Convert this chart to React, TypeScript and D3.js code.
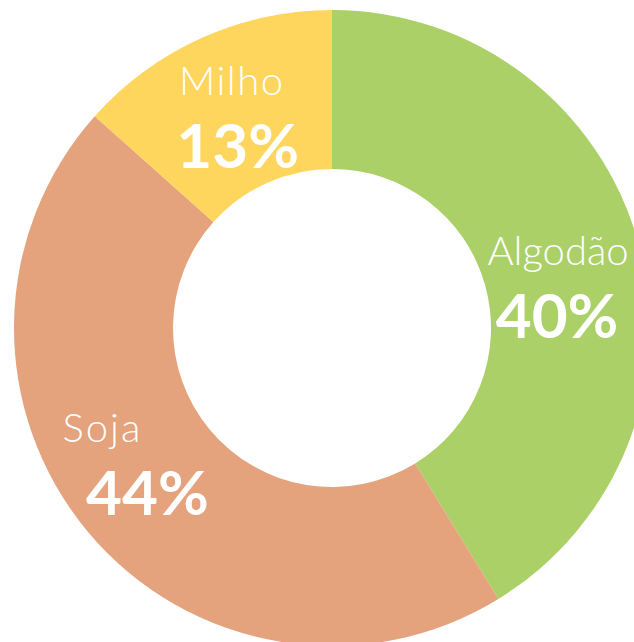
import React, { useEffect, useRef } from 'react';
import * as d3 from 'd3';

// crop shares, clockwise from 12 o'clock
const categories = ['Algodão', 'Soja', 'Milho'];
const shares = [40, 44, 13];
const shareLabels = ['40%', '44%', '13%'];
const colors = ['#aad067', '#e4a27d', '#fed65e'];

// hand-tuned label nudges (dy for the block, dx for name / percent)
const nudges = [
  { dy: 18, nameDx: -3, pctDx: -4, spacing: 0 },
  { dy: -23, nameDx: -47, pctDx: -2, spacing: 2 },
  { dy: 0, nameDx: -3, pctDx: 3, spacing: 1.5 },
];

const App: React.FC = () => {
  const svgRef = useRef<SVGSVGElement | null>(null);

  useEffect(() => {
    if (!svgRef.current) return;
    const svg = d3.select(svgRef.current);
    svg.selectAll('*').remove();

    const width = 634;
    const height = 642;
    const cx = 332;
    const cy = 328;
    const outer = 318;
    const inner = 159;

    const data = categories.map((name, i) => ({ name, value: shares[i], i }));
    const pie = d3
      .pie<{ name: string; value: number; i: number }>()
      .sort(null)
      .value((d) => d.value);
    const arcs = pie(data);

    const arc = d3
      .arc<d3.PieArcDatum<{ name: string; value: number; i: number }>>()
      .innerRadius(inner)
      .outerRadius(outer);
    const labelArc = d3
      .arc<d3.PieArcDatum<{ name: string; value: number; i: number }>>()
      .innerRadius(238)
      .outerRadius(238);

    svg.attr('width', width).attr('height', height).attr('viewBox', `0 0 ${width} ${height}`);
    const g = svg.append('g').attr('transform', `translate(${cx},${cy})`);

    g.selectAll('path')
      .data(arcs)
      .enter()
      .append('path')
      .attr('d', arc)
      .attr('fill', (d) => colors[d.data.i]);

    const labels = g
      .selectAll('g.label')
      .data(arcs)
      .enter()
      .append('g')
      .attr('class', 'label')
      .attr('transform', (d) => {
        const [x, y] = labelArc.centroid(d);
        return `translate(${x},${y + nudges[d.data.i].dy})`;
      });

    labels
      .append('text')
      .attr('x', (d) => nudges[d.data.i].nameDx)
      .attr('y', -16)
      .attr('text-anchor', 'middle')
      .attr('fill', '#fff')
      .attr('font-family', 'Lato, "Open Sans", sans-serif')
      .attr('font-weight', 300)
      .attr('font-size', 40)
      .attr('letter-spacing', (d) => nudges[d.data.i].spacing)
      .text((d) => d.data.name);

    labels
      .append('text')
      .attr('x', (d) => nudges[d.data.i].pctDx)
      .attr('y', 57)
      .attr('text-anchor', 'middle')
      .attr('fill', '#fff')
      .attr('font-family', 'Lato, "Open Sans", sans-serif')
      .attr('font-weight', 700)
      .attr('font-size', 62)
      .text((d) => shareLabels[d.data.i]);
  }, []);

  return (
    <div style={{ position: 'fixed', left: 0, top: 0, width: 634, height: 642, background: '#fff' }}>
      <svg ref={svgRef} style={{ display: 'block' }} />
    </div>
  );
};

export default App;
